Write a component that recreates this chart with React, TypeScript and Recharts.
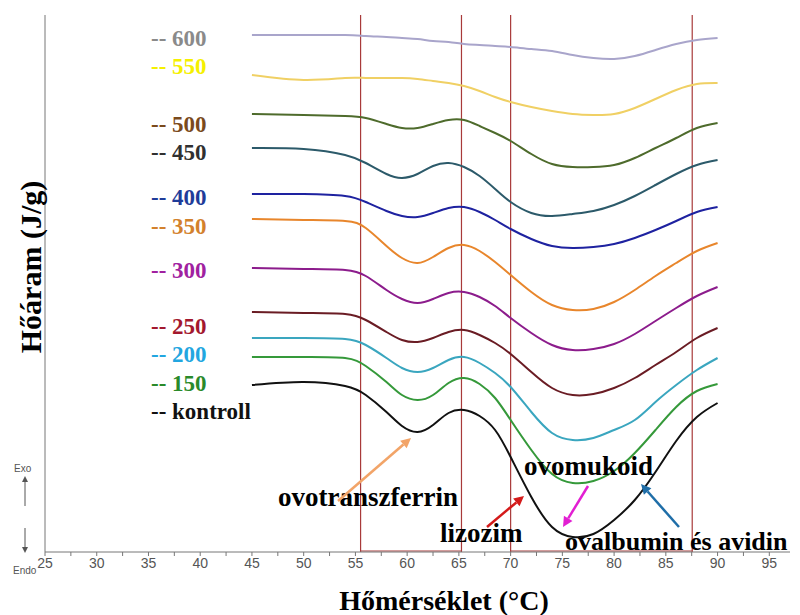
import React from 'react';
import { LineChart, Line, XAxis, YAxis, ReferenceLine } from 'recharts';

// temperature grid (°C) shared by all curves
const TEMPS = [45, 50, 54, 56, 58, 59.5, 61, 62.5, 64, 65.5, 67, 68.5, 70, 72, 74, 76, 78, 80, 82, 84, 86, 88, 90];

// heat flow, arbitrary offset units (curves stacked by treatment pressure, MPa)
const KONTROLL = [167, 170, 166, 157, 140, 126, 120, 127, 139, 142, 136, 122, 95, 55, 25, 15, 18, 32, 52, 80, 111, 135, 149];
const P150 = [195, 195, 194, 186, 170, 157, 152, 157, 169, 174, 168, 154, 132, 102, 78, 69, 71, 81, 99, 122, 145, 161, 168];
const P200 = [214, 214, 213, 207, 194, 184, 180, 184, 192, 195, 189, 179, 165, 140, 119, 112, 114, 122, 132, 150, 167, 182, 194];
const P250 = [240, 239, 238, 232, 220, 212, 210, 214, 220, 222, 217, 209, 198, 180, 164, 157, 158, 164, 174, 187, 200, 214, 224];
const P300 = [284, 283, 282, 276, 262, 253, 249, 253, 259, 260, 255, 246, 234, 219, 207, 202, 203, 208, 218, 231, 244, 256, 265];
const P350 = [333, 332, 331, 324, 306, 294, 289, 295, 304, 307, 301, 290, 277, 260, 247, 242, 243, 250, 262, 276, 289, 301, 309];
const P400 = [358, 358, 356, 350, 341, 336, 335, 339, 344, 345, 340, 332, 323, 313, 306, 304, 305, 308, 314, 322, 331, 340, 345];
const P450 = [404, 403, 397, 389, 378, 374, 378, 386, 389, 385, 376, 363, 350, 339, 336, 338, 341, 347, 356, 367, 378, 387, 392];
const P500 = [438, 437, 436, 434, 428, 424, 424, 428, 432, 432, 426, 419, 411, 398, 388, 385, 385, 387, 394, 404, 414, 424, 429];
const P550 = [477, 472, 474, 474, 474, 474, 473, 471, 469, 466, 461, 455, 450, 445, 441, 438, 437, 438, 444, 453, 462, 468, 469];
const P600 = [517, 517, 517, 516, 515, 514, 513, 511, 510, 508, 507, 506, 505, 503, 501, 497, 494, 493, 496, 502, 508, 512, 514];

const X_TICKS = [25, 27.5, 30, 32.5, 35, 37.5, 40, 42.5, 45, 47.5, 50, 52.5, 55, 57.5, 60, 62.5, 65, 67.5, 70, 72.5, 75, 77.5, 80, 82.5, 85, 87.5, 90, 92.5, 95];

// protein transition regions (°C)
const REGION_EDGES = [55.5, 65.25, 70, 87.55];

const SERIES = [
    { key: 'p600', label: '600', values: P600, color: '#a9a5cb', legend: '#8a8a8a', ly: 38 },
    { key: 'p550', label: '550', values: P550, color: '#f0d064', legend: '#f5f000', ly: 66 },
    { key: 'p500', label: '500', values: P500, color: '#4e6b2c', legend: '#7a4a1c', ly: 124 },
    { key: 'p450', label: '450', values: P450, color: '#2c5a6a', legend: '#303030', ly: 152 },
    { key: 'p400', label: '400', values: P400, color: '#1e22a0', legend: '#1f3c99', ly: 197 },
    { key: 'p350', label: '350', values: P350, color: '#e8862c', legend: '#d3812c', ly: 226 },
    { key: 'p300', label: '300', values: P300, color: '#8c1c8c', legend: '#a021a0', ly: 270 },
    { key: 'p250', label: '250', values: P250, color: '#6a1c24', legend: '#a3182e', ly: 326 },
    { key: 'p200', label: '200', values: P200, color: '#3aa6bf', legend: '#22a6e0', ly: 354 },
    { key: 'p150', label: '150', values: P150, color: '#35993a', legend: '#2a8a2a', ly: 383 },
    { key: 'kontroll', label: 'kontroll', values: KONTROLL, color: '#111111', legend: '#111111', ly: 411 },
];

const rows = TEMPS.map((t, i) => {
    const row: Record<string, number> = { t };
    SERIES.forEach(s => { row[s.key] = s.values[i]; });
    return row;
});

const SERIF = '"Liberation Serif", "Times New Roman", serif';
const RED = '#a83a3a';

const Arrow = ({ x1, y1, x2, y2, color, w = 2.5, head = 10 }: any) => {
    const a = Math.atan2(y2 - y1, x2 - x1);
    const hw = head * 0.5;
    const bx = x2 - head * Math.cos(a);
    const by = y2 - head * Math.sin(a);
    const pts = `${x2},${y2} ${bx + hw * Math.sin(a)},${by - hw * Math.cos(a)} ${bx - hw * Math.sin(a)},${by + hw * Math.cos(a)}`;
    return (
        <g>
            <line x1={x1} y1={y1} x2={bx} y2={by} stroke={color} strokeWidth={w} />
            <polygon points={pts} fill={color} />
        </g>
    );
};

export default function App() {
    return (
        <div style={{ position: 'absolute', left: 0, top: 0, width: 800, height: 615, background: '#fff' }}>
            <LineChart width={800} height={615} data={rows} margin={{ top: 15, right: 10, left: 44, bottom: 33 }}>
                <XAxis
                    dataKey="t"
                    type="number"
                    domain={[25, 97]}
                    ticks={X_TICKS}
                    interval={0}
                    tickFormatter={(v: number) => (v % 5 === 0 ? String(v) : '')}
                    stroke="#777"
                    tickSize={4}
                    height={30}
                    tick={{ fill: '#555', fontSize: 14, fontFamily: '"Liberation Sans", Arial, sans-serif' }}
                    allowDataOverflow
                />
                <YAxis type="number" domain={[0, 537]} width={1} tick={false} tickLine={false} stroke="#777" />
                {REGION_EDGES.map(x => (
                    <ReferenceLine key={x} x={x} stroke={RED} strokeWidth={1.2} />
                ))}
                <ReferenceLine segment={[{ x: REGION_EDGES[0], y: 1 }, { x: REGION_EDGES[1], y: 1 }]} stroke={RED} strokeWidth={1.2} />
                <ReferenceLine segment={[{ x: REGION_EDGES[2], y: 1 }, { x: REGION_EDGES[3], y: 1 }]} stroke={RED} strokeWidth={1.2} />
                {SERIES.map(s => (
                    <Line
                        key={s.key}
                        dataKey={s.key}
                        type="natural"
                        stroke={s.color}
                        strokeWidth={2}
                        dot={false}
                        isAnimationActive={false}
                    />
                ))}
            </LineChart>
            <svg width={800} height={615} style={{ position: 'absolute', left: 0, top: 0, pointerEvents: 'none' }}>
                {SERIES.map(s => (
                    <text key={s.key} x={151} y={s.ly} fill={s.legend} fontFamily={SERIF} fontWeight="bold" fontSize={23} dominantBaseline="central">
                        -- {s.label}
                    </text>
                ))}
                <text x={30} y={267} transform="rotate(-90 30 267)" textAnchor="middle" dominantBaseline="central" fontFamily={SERIF} fontWeight="bold" fontSize={30}>
                    Hőáram  (J/g)
                </text>
                <text x={444} y={600} textAnchor="middle" dominantBaseline="central" fontFamily={SERIF} fontWeight="bold" fontSize={28}>
                    Hőmérséklet  (°C)
                </text>
                <text x={14} y={468} fontSize={10} fill="#555" fontFamily="Liberation Sans, sans-serif" dominantBaseline="central">Exo</text>
                <Arrow x1={25} y1={506} x2={25} y2={476} color="#555" w={1} head={6} />
                <Arrow x1={25} y1={528} x2={25} y2={553} color="#555" w={1} head={6} />
                <text x={13} y={570} fontSize={10} fill="#555" fontFamily="Liberation Sans, sans-serif" dominantBaseline="central">Endo</text>

                <text x={278} y={497} fontFamily={SERIF} fontWeight="bold" fontSize={27} dominantBaseline="central">ovotranszferrin</text>
                <text x={440} y={533} fontFamily={SERIF} fontWeight="bold" fontSize={27} dominantBaseline="central">lizozim</text>
                <text x={524} y={466} fontFamily={SERIF} fontWeight="bold" fontSize={27} dominantBaseline="central">ovomukoid</text>
                <text x={565} y={541} fontFamily={SERIF} fontWeight="bold" fontSize={26} dominantBaseline="central">ovalbumin és avidin</text>

                <Arrow x1={338} y1={501} x2={411} y2={438} color="#f2a468" />
                <Arrow x1={487} y1={527} x2={524} y2={496} color="#d41a1a" />
                <Arrow x1={588} y1={486} x2={563} y2={527} color="#e21fd2" />
                <Arrow x1={679} y1={527} x2={641} y2={484} color="#1f6ea8" />
            </svg>
        </div>
    );
}
